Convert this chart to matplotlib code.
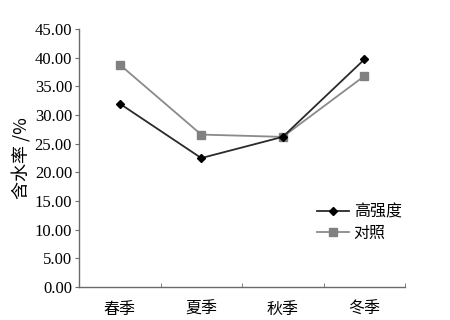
import matplotlib
matplotlib.use("Agg")
import matplotlib.pyplot as plt

seasons = ["春季", "夏季", "秋季", "冬季"]
high = [32.0, 22.5, 26.2, 39.7]      # 高强度
ctrl = [38.8, 26.6, 26.2, 36.8]      # 对照
yticks = [0, 5, 10, 15, 20, 25, 30, 35, 40, 45]

SERIF = ["Liberation Serif", "Noto Sans CJK SC"]
CJK = ["Noto Sans CJK SC", "Liberation Serif"]
AX = "#6a6a6a"

fig = plt.figure(figsize=(4.5, 3.2), dpi=100)
ax = fig.add_axes([0.1756, 0.103, 0.7244, 0.806])

x = list(range(len(seasons)))
ax.plot(x, high, color="#2a2a2a", lw=1.3, marker="D", ms=4.5,
        mfc="black", mec="black", label="高强度", zorder=3)
ax.plot(x, ctrl, color="#8a8a8a", lw=1.3, marker="s", ms=5.5,
        mfc="#808080", mec="#808080", label="对照", zorder=2)

ax.set_xlim(-0.5, 3.5)
ax.set_ylim(0, 45)
ax.set_yticks(yticks)
ax.set_yticklabels([f"{v:.2f}" for v in yticks], family=SERIF, fontsize=12)
ax.set_xticks(x)
ax.set_xticklabels(seasons, family=CJK, fontsize=11.5)
ax.set_xticks([-0.5, 0.5, 1.5, 2.5, 3.5], minor=True)
ax.tick_params(axis="x", which="major", length=0, pad=10)
ax.tick_params(axis="x", which="minor", direction="in", length=3, color=AX)
ax.tick_params(axis="y", direction="out", length=3, color=AX, pad=2)
for s in ("top", "right"):
    ax.spines[s].set_visible(False)
for s in ("left", "bottom"):
    ax.spines[s].set_color(AX)
    ax.spines[s].set_linewidth(1.0)

ax.set_ylabel("含水率 /%", family=CJK, fontsize=13, labelpad=2)

leg = ax.legend(loc="upper left", bbox_to_anchor=(0.71, 0.35), frameon=False,
                prop={"family": CJK, "size": 11.5}, handlelength=2.0,
                handletextpad=0.3, labelspacing=0.3, borderaxespad=0)

fig.savefig("out.png", dpi=100, facecolor="white")
